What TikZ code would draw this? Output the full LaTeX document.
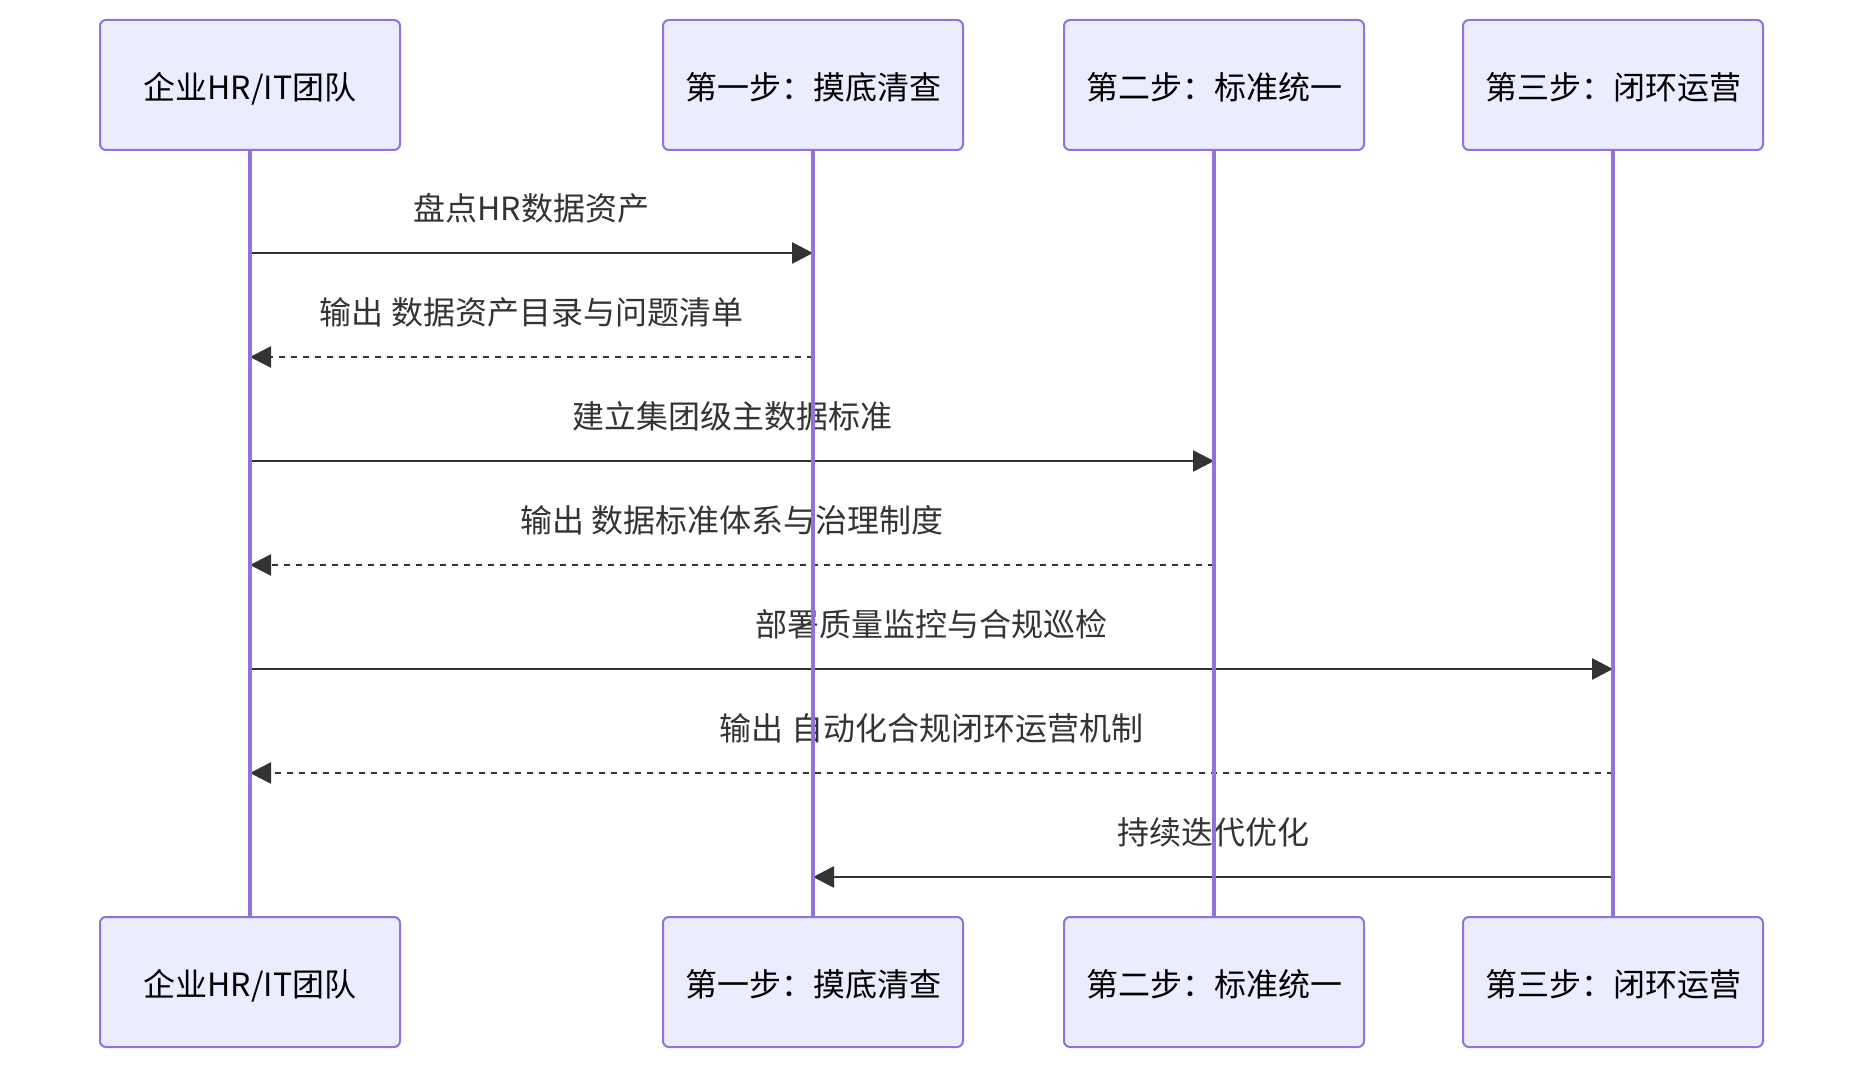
\documentclass[tikz,border=0pt]{standalone}
\usepackage{fontspec}
\setmainfont{Noto Sans CJK SC}
\usepackage{xcolor}
\usetikzlibrary{arrows.meta}
\definecolor{actfill}{HTML}{ECECFF}
\definecolor{actline}{HTML}{9370DB}
\definecolor{msgc}{HTML}{333333}

\begin{document}
\begin{tikzpicture}[
    x=0.5pt, y=-0.5pt,
    actor/.style={draw=actline, fill=actfill, line width=1pt, rounded corners=3pt, minimum width=150pt, minimum height=65pt, inner sep=0pt, text height=15.4pt, text depth=1pt, font=\fontsize{16}{19}\selectfont},
    life/.style={draw=actline, line width=1.7pt},
    msg/.style={draw=msgc, line width=1.3pt, -{Triangle[length=10.5pt, width=10.5pt]}},
    reply/.style={msg, dash pattern=on 3pt off 3pt},
    lbl/.style={text=msgc, midway, yshift=22.5pt, font=\fontsize{16}{19}\selectfont},
]
\useasboundingbox (0,0) rectangle (1864,1070);

% Actors (top)
\node[actor] (hrT) at (250,85) {企业HR/IT团队};
\node[actor] (s1T) at (813,85) {第一步：摸底清查};
\node[actor] (s2T) at (1214,85) {第二步：标准统一};
\node[actor] (s3T) at (1613,85) {第三步：闭环运营};

% Actors (bottom)
\node[actor] (hrB) at (250,982) {企业HR/IT团队};
\node[actor] (s1B) at (813,982) {第一步：摸底清查};
\node[actor] (s2B) at (1214,982) {第二步：标准统一};
\node[actor] (s3B) at (1613,982) {第三步：闭环运营};

% Message rows
\foreach \i/\y in {1/253, 2/357, 3/461, 4/565, 5/669, 6/773, 7/877}
    \coordinate (m\i) at (0,\y);

% Messages
\draw[msg] (hrT |- m1) -- node[lbl] {盘点HR数据资产} (s1T |- m1);
\draw[reply] (s1T |- m2) -- node[lbl] {输出 数据资产目录与问题清单} (hrT |- m2);
\draw[msg] (hrT |- m3) -- node[lbl] {建立集团级主数据标准} (s2T |- m3);
\draw[reply] (s2T |- m4) -- node[lbl] {输出 数据标准体系与治理制度} (hrT |- m4);
\draw[msg] (hrT |- m5) -- node[lbl] {部署质量监控与合规巡检} (s3T |- m5);
\draw[reply] (s3T |- m6) -- node[lbl] {输出 自动化合规闭环运营机制} (hrT |- m6);
\draw[msg] (s3T |- m7) -- node[lbl] {持续迭代优化} (s1T |- m7);

% Lifelines
\draw[life] (hrT) -- (hrB);
\draw[life] (s1T) -- (s1B);
\draw[life] (s2T) -- (s2B);
\draw[life] (s3T) -- (s3B);

\end{tikzpicture}
\end{document}
